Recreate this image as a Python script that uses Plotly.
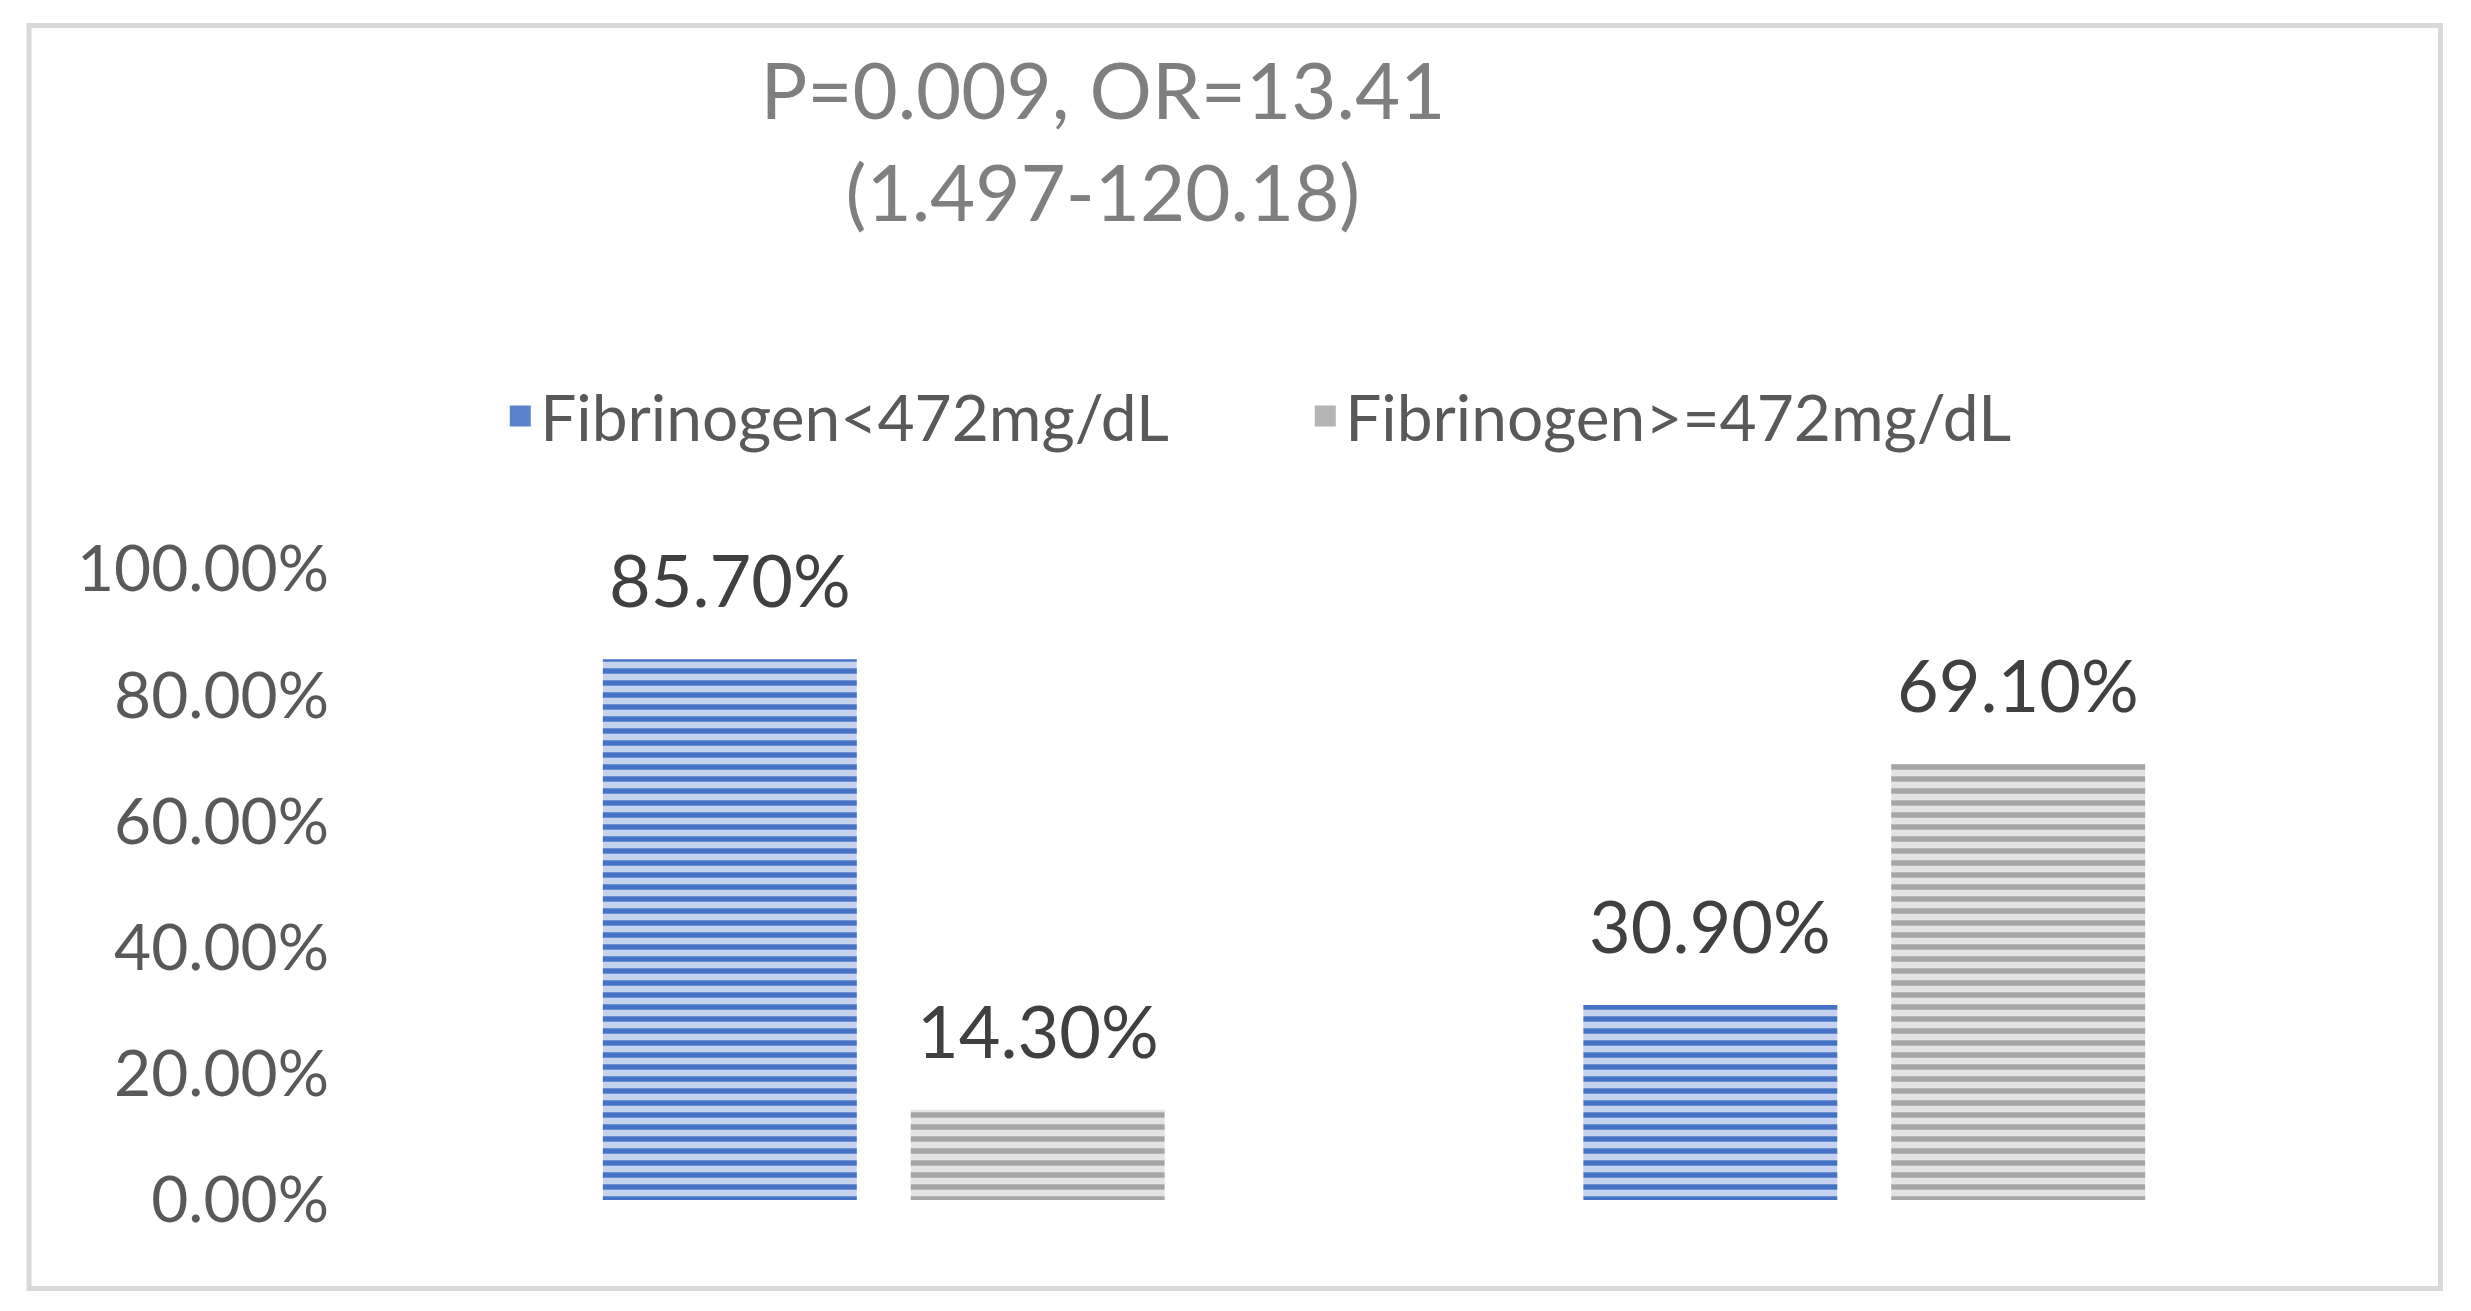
import plotly.graph_objects as go

categories = ["Group 1", "Group 2"]
series_names = ["Fibrinogen<472mg/dL", "Fibrinogen>=472mg/dL"]
low_fibrinogen = [85.7, 30.9]
high_fibrinogen = [14.3, 69.1]
title_lines = ["P=0.009, OR=13.41", "(1.497-120.18)"]

FONT = "Lato"
BAR_WIDTH = 0.259
styles = [
    {"fg": "#4472C4", "bg": "#C6D3EE", "key": "#5A82CA", "offset": -0.287},
    {"fg": "#A5A5A5", "bg": "#E3E3E3", "key": "#B4B4B4", "offset": 0.027},
]

fig = go.Figure()
for name, values, style in zip(series_names, (low_fibrinogen, high_fibrinogen), styles):
    fig.add_trace(go.Bar(
        x=categories, y=values, name=name, showlegend=False,
        width=BAR_WIDTH, offset=style["offset"],
        marker={"color": style["bg"], "line": {"width": 0},
                "pattern": {"shape": "-", "fgcolor": style["fg"], "bgcolor": style["bg"],
                            "size": 12, "solidity": 0.45, "fillmode": "replace"}},
    ))
    # legend key: bar legend symbols are tiny, so use a square marker entry instead
    fig.add_trace(go.Scatter(x=[None], y=[None], mode="markers", name=name,
                             marker={"symbol": "square", "size": 16, "color": style["key"],
                                     "line": {"color": style["key"], "width": 5}}))
    # data labels, placed above each bar from the same values
    for i, value in enumerate(values):
        fig.add_annotation(x=i + style["offset"] + BAR_WIDTH / 2, y=value, text=f"{value:.2f}%",
                           showarrow=False, yanchor="middle", yshift=80,
                           font={"family": FONT, "size": 72, "color": "#404040"})

# light grey chart-area frame
fig.add_shape(type="rect", xref="paper", yref="paper", x0=-0.1861, x1=1.0436, y0=-0.1403, y1=1.8613,
              line={"color": "#D9D9D9", "width": 5}, fillcolor="rgba(0,0,0,0)", layer="below")

fig.update_xaxes(showticklabels=False, showline=False, showgrid=False, zeroline=False, ticks="")
fig.update_yaxes(range=[0, 100], dtick=20, tickformat=".2f", ticksuffix="%", showgrid=False,
                 showline=False, zeroline=False, ticks="", ticklabelstandoff=64,
                 tickfont={"family": FONT, "size": 64, "color": "#595959"})
fig.update_layout(
    width=2471, height=1311,
    margin={"l": 386, "r": 124, "t": 561, "b": 119},
    paper_bgcolor="white", plot_bgcolor="white",
    title={"text": "<br>".join(title_lines), "x": 0.4431, "xanchor": "center", "xref": "container",
           "y": 0.915, "yanchor": "middle", "yref": "container",
           "font": {"family": FONT, "size": 78, "color": "#7F7F7F"}},
    legend={"orientation": "h", "x": 0.525, "xanchor": "center", "xref": "container",
            "y": 0.6884, "yanchor": "middle", "yref": "container", "entrywidth": 760,
            "itemsizing": "trace",
            "font": {"family": FONT, "size": 64, "color": "#595959"}},
    showlegend=True,
)
fig.write_html("out.html")
